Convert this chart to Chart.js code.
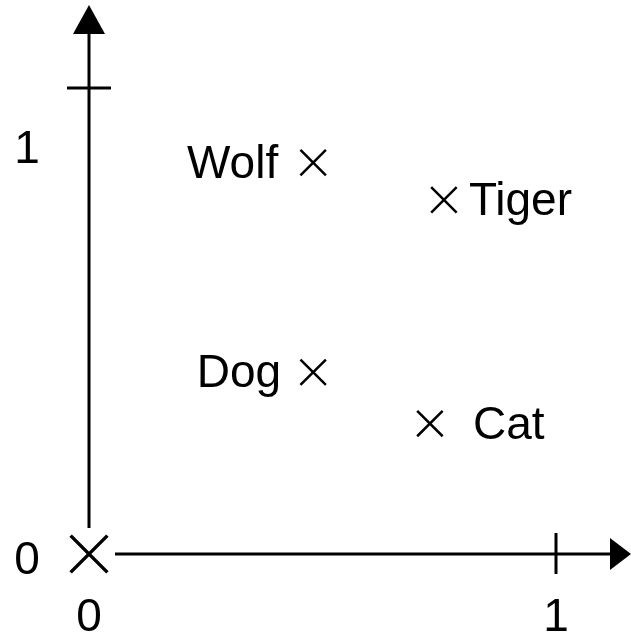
<!DOCTYPE html>
<html>
<head>
<meta charset="utf-8">
<title>Animals</title>
<script src="https://cdn.jsdelivr.net/npm/chart.js@4/dist/chart.umd.min.js"></script>
<style>
  html, body { margin: 0; padding: 0; background: #fff; }
  canvas { display: block; }
</style>
</head>
<body>
<canvas id="chart" width="631" height="633"></canvas>
<script>
// Data
const animals = ['Wolf', 'Tiger', 'Dog', 'Cat'];
const xValues = [0.48, 0.76, 0.48, 0.73];
const yValues = [0.84, 0.76, 0.39, 0.28];
const xTicks = [0, 1];
const yTicks = [0, 1];

const FONT = '46px "Liberation Sans", Arial, sans-serif';

// Horizontal gap between cross and name (negative = name on the left)
const labelGap = { Wolf: -35, Dog: -32, Tiger: 25, Cat: 43 };

// Hand-drawn style axes: arrows, one tick per axis, labels
const axesPlugin = {
    id: 'axes',
    afterDatasetsDraw(chart) {
        const ctx = chart.ctx;
        const xs = chart.scales.x;
        const ys = chart.scales.y;
        const ox = xs.getPixelForValue(0);
        const oy = ys.getPixelForValue(0);
        const x1 = xs.getPixelForValue(1);
        const y1 = ys.getPixelForValue(1);

        ctx.save();
        ctx.strokeStyle = '#000';
        ctx.fillStyle = '#000';
        ctx.lineWidth = 3;

        // y axis
        ctx.beginPath();
        ctx.moveTo(ox, oy - 26);
        ctx.lineTo(ox, 30);
        ctx.stroke();
        ctx.beginPath();
        ctx.moveTo(ox, 5);
        ctx.lineTo(ox - 16, 34);
        ctx.lineTo(ox + 16, 34);
        ctx.closePath();
        ctx.fill();
        ctx.beginPath();
        ctx.moveTo(ox - 22, y1);
        ctx.lineTo(ox + 22, y1);
        ctx.stroke();

        // x axis
        ctx.beginPath();
        ctx.moveTo(ox + 26, oy);
        ctx.lineTo(614, oy);
        ctx.stroke();
        ctx.beginPath();
        ctx.moveTo(631, oy);
        ctx.lineTo(610, oy - 16);
        ctx.lineTo(610, oy + 16);
        ctx.closePath();
        ctx.fill();
        ctx.beginPath();
        ctx.moveTo(x1, oy - 21);
        ctx.lineTo(x1, oy + 20);
        ctx.stroke();

        // tick labels
        ctx.font = FONT;
        ctx.textAlign = 'center';
        ctx.textBaseline = 'alphabetic';
        xTicks.forEach(v => {
            ctx.fillText(String(v), xs.getPixelForValue(v), oy + 77);
        });
        yTicks.forEach(v => {
            const py = ys.getPixelForValue(v);
            ctx.fillText(String(v), 27, v === 0 ? py + 20 : py + 75);
        });

        // point names
        const meta = chart.getDatasetMeta(0);
        meta.data.forEach((pt, i) => {
            const name = animals[i];
            const gap = labelGap[name];
            ctx.textAlign = gap < 0 ? 'right' : 'left';
            ctx.fillText(name, pt.x + gap, pt.y + 15);
        });
        ctx.restore();
    }
};

new Chart(document.getElementById('chart'), {
    type: 'scatter',
    data: {
        datasets: [
            {
                label: 'Animals',
                data: xValues.map((x, i) => ({ x: x, y: yValues[i] })),
                pointStyle: 'crossRot',
                pointRadius: 18,
                pointHoverRadius: 18,
                borderColor: '#000',
                borderWidth: 2.5,
                clip: false
            },
            {
                label: 'Origin',
                data: [{ x: 0, y: 0 }],
                pointStyle: 'crossRot',
                pointRadius: 26,
                pointHoverRadius: 26,
                borderColor: '#000',
                borderWidth: 3.5,
                clip: false
            }
        ]
    },
    options: {
        responsive: false,
        animation: false,
        events: [],
        layout: { padding: { left: 89, right: 75, top: 88, bottom: 79 } },
        plugins: {
            legend: { display: false },
            tooltip: { enabled: false }
        },
        scales: {
            x: { type: 'linear', min: 0, max: 1, display: false },
            y: { type: 'linear', min: 0, max: 1, display: false }
        }
    },
    plugins: [axesPlugin]
});
</script>
</body>
</html>
